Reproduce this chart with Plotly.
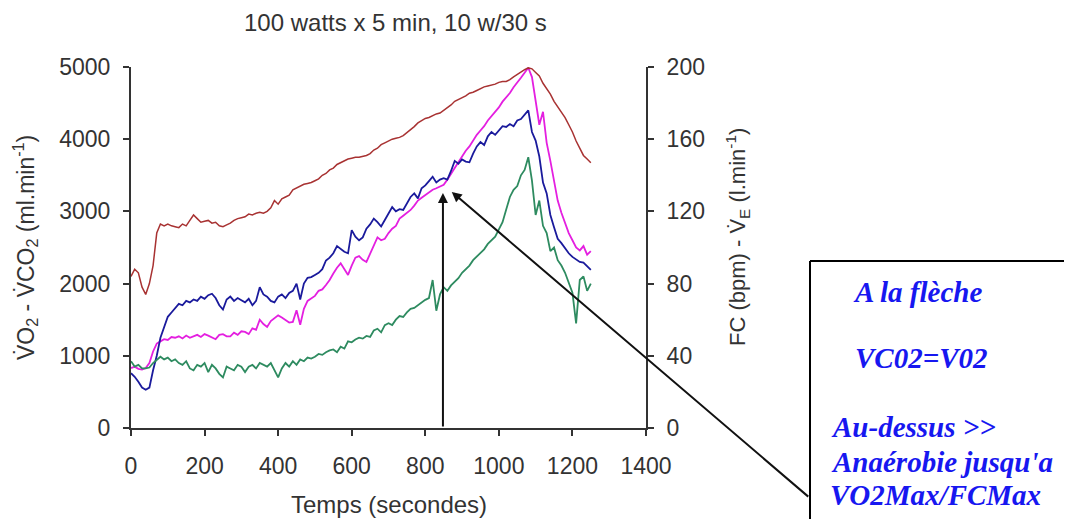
import plotly.graph_objects as go

# ---------------- data ----------------
time_s = list(range(0, 1260, 10))

vo2 = [760, 710, 640, 560, 530, 560, 800, 1000, 1250, 1400,
       1540, 1600, 1660, 1720, 1700, 1760, 1740, 1780, 1760, 1820,
       1790, 1840, 1860, 1800, 1700, 1640, 1780, 1820, 1760, 1800,
       1770, 1740, 1790, 1700, 1760, 1950, 1850, 1820, 1760, 1740,
       1820, 1850, 1800, 1870, 1900, 2000, 1780, 2000, 2080, 2090,
       2120, 2150, 2200, 2320, 2360, 2420, 2520, 2480, 2440, 2420,
       2740, 2650, 2600, 2640, 2760, 2820, 2900, 2850, 2790, 2880,
       2980, 3060, 3000, 3030, 3020, 3120, 3200, 3250, 3180, 3320,
       3360, 3420, 3480, 3400, 3440, 3460, 3440, 3560, 3700, 3660,
       3720, 3690, 3680, 3800, 3900, 3960, 3920, 4040, 4100, 4060,
       4120, 4180, 4170, 4210, 4180, 4260, 4280, 4340, 4400, 4100,
       3980, 3760, 3400, 3250, 2950, 2780, 2620, 2560, 2490, 2420,
       2370, 2330, 2300, 2290, 2240, 2190]

vco2 = [830, 850, 820, 810, 830, 900, 1060, 1170, 1200, 1230,
        1220, 1260, 1250, 1270, 1240, 1280, 1250, 1270, 1290, 1260,
        1300, 1280, 1250, 1230, 1290, 1300, 1270, 1270, 1320, 1290,
        1340, 1330, 1300, 1380, 1360, 1500, 1440, 1400, 1480, 1520,
        1560, 1530, 1500, 1460, 1470, 1630, 1430, 1650, 1760, 1790,
        1830, 1900, 1920, 1980, 2050, 2140, 2220, 2280, 2200, 2120,
        2250, 2360, 2380, 2330, 2300, 2420, 2540, 2640, 2600, 2620,
        2700, 2760, 2800, 2900, 2940, 2980, 3020, 3080, 3150, 3190,
        3230, 3260, 3300, 3320, 3340, 3370, 3440, 3530, 3600, 3680,
        3760, 3840, 3900, 3980, 4060, 4120, 4180, 4260, 4320, 4380,
        4440, 4520, 4580, 4640, 4720, 4780, 4850, 4920, 4990, 4860,
        4550, 4200, 4380, 3950, 3700, 3400, 3150, 2980, 2840, 2700,
        2600, 2500, 2460, 2520, 2400, 2450]

ve = [37, 34, 35, 33, 33, 33.5, 36, 38, 39.5, 38,
      39, 37, 38, 36, 35, 37, 33, 32, 35, 34,
      36, 31, 35, 33, 30, 28, 34, 33, 32, 35,
      34, 31, 34, 35, 33, 36, 35, 34, 36, 32,
      28, 33, 36, 34, 37, 35, 38, 37, 39, 38.5,
      39.5, 41, 40.5, 42, 43, 43.5, 42, 45, 44, 48,
      47.5, 49, 50, 49.5, 51, 50.5, 54, 55, 53, 57,
      58, 57, 60, 62, 61.5, 64, 66, 66.5, 68, 70,
      71, 72, 82, 65, 74, 78, 76, 79, 81, 83,
      86, 88, 90, 93, 95, 97, 99, 102, 104, 106,
      110, 114, 121, 128, 132, 134, 140, 143, 150, 137,
      118, 126, 112, 108, 98, 100, 93, 90, 86, 80,
      75, 58, 82, 84, 76, 80]

fc = [84, 88, 86, 78, 74, 80, 90, 108, 113, 112,
      113, 112, 111.5, 111, 113, 112, 115, 118, 116, 114,
      114.5, 115, 113.5, 114, 112, 111.5, 112.5, 113.5, 115, 116,
      116.5, 117, 118.5, 118, 119, 119.5, 119, 120, 122, 126,
      124, 127, 128, 129, 132, 133, 134, 135, 135.5, 136,
      137, 138, 140, 141, 143, 144, 146, 147, 148, 149,
      149.5, 150, 150, 150.5, 151, 152, 154, 155, 157, 158,
      159, 160, 160.5, 161, 162, 163.5, 165, 167, 169, 170.5,
      171.5, 172, 173, 174, 174.5, 176, 177, 179, 181, 182,
      183, 184, 185.5, 186, 187, 188, 189, 189.5, 190, 190.5,
      191.5, 192, 192, 193, 194.5, 196, 197.5, 198.5, 199.5, 199,
      197, 195, 191, 188, 185, 181, 178, 175, 172, 168,
      164, 159, 155, 151, 149, 147]

x_ticks = [0, 200, 400, 600, 800, 1000, 1200, 1400]
y_ticks = [0, 1000, 2000, 3000, 4000, 5000]
y2_ticks = [0, 40, 80, 120, 160, 200]

title_text = "100 watts x 5 min, 10 w/30 s"
x_title = "Temps (secondes)"
y_title = "V\u0307O<sub>2</sub> - V\u0307CO<sub>2</sub> (ml.min<sup>-1</sup>)"
y2_title = "FC (bpm) - V\u0307<sub>E</sub> (l.min<sup>-1</sup>)"
box_lines = ["A la flèche", "VC02=V02", "Au-dessus >>", "Anaérobie jusqu'a", "VO2Max/FCMax"]
arrow_x = 848
arrow_y = 3255
arrow2_x = 872
arrow2_y = 3270

# ---------------- layout helpers ----------------
W, H = 1072, 519
OFF = 8  # page body margin offset
L, R, T, B = 131 - OFF, 646 - OFF, 67 - OFF, 428 - OFF


def px(xs):
    return (xs - OFF - L) / (R - L)


def py(ys):
    return (B - (ys - OFF)) / (B - T)


sans = "Liberation Sans, Arial, sans-serif"
serif = "Liberation Serif, Times New Roman, serif"
txt_col = "#333333"
ax_col = "#333333"

fig = go.Figure()
fig.add_trace(go.Scatter(x=time_s, y=vco2, mode="lines", line=dict(color="#e41fe0", width=1.8), name="VCO2"))
fig.add_trace(go.Scatter(x=time_s, y=vo2, mode="lines", line=dict(color="#1a1a9c", width=1.8), name="VO2"))
fig.add_trace(go.Scatter(x=time_s, y=ve, mode="lines", yaxis="y2", line=dict(color="#2e8b60", width=1.8), name="VE"))
fig.add_trace(go.Scatter(x=time_s, y=fc, mode="lines", yaxis="y2", line=dict(color="#a83232", width=1.5), name="FC"))

axis_common = dict(showline=True, linecolor=ax_col, linewidth=2, ticks="outside", ticklen=6,
                   tickwidth=2, tickcolor=ax_col, showgrid=False, zeroline=False,
                   tickfont=dict(family=sans, size=23, color=txt_col))

fig.update_layout(
    width=W, height=H,
    margin=dict(l=L, r=W - R, t=T, b=H - B, pad=0),
    plot_bgcolor="white", paper_bgcolor="white",
    showlegend=False,
    xaxis=dict(range=[0, 1400], tickvals=x_ticks, ticklabelstandoff=10, **axis_common),
    yaxis=dict(range=[0, 5000], tickvals=y_ticks, ticklabelstandoff=8, **axis_common),
    yaxis2=dict(range=[0, 200], tickvals=y2_ticks, overlaying="y", side="right", ticklabelstandoff=8,
                **axis_common),
)

ann = []
ann.append(dict(text=title_text, x=px(395), y=py(22), xref="paper", yref="paper", showarrow=False,
                xanchor="center", yanchor="middle", font=dict(family=sans, size=24, color=txt_col)))
ann.append(dict(text=x_title, x=px(389), y=py(504), xref="paper", yref="paper", showarrow=False,
                xanchor="center", yanchor="middle", font=dict(family=sans, size=24, color=txt_col)))
ann.append(dict(text=y_title, x=px(25), y=py(248), xref="paper", yref="paper", showarrow=False,
                textangle=-90, xanchor="center", yanchor="middle", font=dict(family=sans, size=23, color=txt_col)))
ann.append(dict(text=y2_title, x=px(738), y=py(237), xref="paper", yref="paper", showarrow=False,
                textangle=-90, xanchor="center", yanchor="middle", font=dict(family=sans, size=22, color=txt_col)))

# arrows
ann.append(dict(x=arrow_x, y=arrow_y, ax=arrow_x, ay=0, xref="x", yref="y", axref="x", ayref="y",
                showarrow=True, arrowhead=2, arrowsize=1, arrowwidth=2, arrowcolor="#111111", text=""))
ann.append(dict(x=arrow2_x, y=arrow2_y, ax=358, ay=306, xref="x", yref="y",
                showarrow=True, arrowhead=2, arrowsize=1, arrowwidth=2, arrowcolor="#111111", text=""))

# text box lines
box_pos = [(851, 292), (853, 358), (829, 427), (829, 462), (828, 495)]
for t_, (xp_, yp_) in zip(box_lines, box_pos):
    ann.append(dict(text="<b><i>" + t_ + "</i></b>", x=px(xp_), y=py(yp_), xref="paper", yref="paper",
                    showarrow=False, xanchor="left", yanchor="middle",
                    font=dict(family=serif, size=29, color="#1717f0")))

fig.update_layout(annotations=ann)

fig.add_shape(type="line", xref="paper", yref="paper", x0=px(810), x1=px(1090), y0=py(261), y1=py(261),
              line=dict(color="black", width=2))
fig.add_shape(type="line", xref="paper", yref="paper", x0=px(810), x1=px(810), y0=py(261), y1=py(540),
              line=dict(color="black", width=2))

fig.write_html("out.html")
